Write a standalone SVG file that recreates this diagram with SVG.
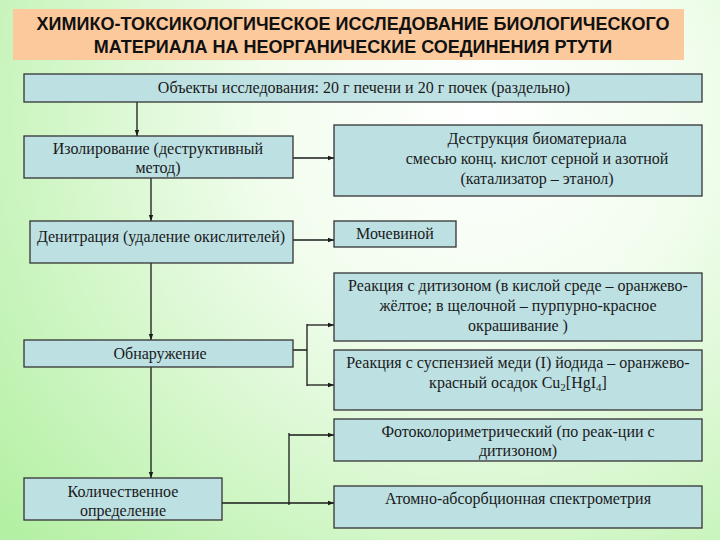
<svg xmlns="http://www.w3.org/2000/svg" width="720" height="540" viewBox="0 0 720 540">
<defs>
<radialGradient id="bg" cx="480" cy="120" r="620" gradientUnits="userSpaceOnUse">
<stop offset="0" stop-color="#ffffff"/>
<stop offset="0.35" stop-color="#f2fdee"/>
<stop offset="1" stop-color="#b4f0a4"/>
</radialGradient>
<marker id="ah" markerWidth="6" markerHeight="6" refX="6" refY="3" orient="auto" markerUnits="userSpaceOnUse">
<path d="M0,0.8 L6,3 L0,5.2 Z" fill="#1a1a1a"/>
</marker>
<style>
.box{fill:#bde0e3;stroke:#333333;stroke-width:1.3}
.t{font-family:"Liberation Serif","Times New Roman",serif;font-size:16px;fill:#1a1a1a;text-anchor:middle}
.ttl{font-family:"Liberation Sans",Arial,sans-serif;font-size:18px;font-weight:bold;fill:#111;text-anchor:middle}
.c{fill:none;stroke:#1a1a1a;stroke-width:1.3}
.ca{fill:none;stroke:#1a1a1a;stroke-width:1.3;marker-end:url(#ah)}
</style>
</defs>
<rect width="720" height="540" fill="url(#bg)"/>
<g id="title">
<rect x="13" y="9" width="671" height="51" fill="#fbc99c"/>
<text class="ttl" x="353" y="30">ХИМИКО-ТОКСИКОЛОГИЧЕСКОЕ ИССЛЕДОВАНИЕ БИОЛОГИЧЕСКОГО</text>
<text class="ttl" x="353" y="53">МАТЕРИАЛА НА НЕОРГАНИЧЕСКИЕ СОЕДИНЕНИЯ РТУТИ</text>
</g>
<g id="connectors">
<path class="ca" d="M137,102 V136"/>
<path class="ca" d="M293,158 H334"/>
<path class="ca" d="M151,178 V221"/>
<path class="ca" d="M293,240 H334"/>
<path class="ca" d="M151,263 V340"/>
<path class="c" d="M293,350 H307 M307,324 V386"/>
<path class="ca" d="M307,325 H334"/>
<path class="ca" d="M307,385 H334"/>
<path class="ca" d="M151,367 V478"/>
<path class="ca" d="M222,503 H334"/>
<path class="c" d="M289,433 V505"/>
<path class="ca" d="M289,435 H334"/>
</g>
<g id="objects">
<rect class="box" x="24" y="74" width="678" height="28"/>
<text class="t" x="364" y="93">Объекты исследования: 20 г печени и 20 г почек (раздельно)</text>
</g>
<g id="isolation">
<rect class="box" x="24" y="136" width="269" height="42"/>
<text class="t" x="158" y="154">Изолирование (деструктивный</text>
<text class="t" x="158" y="173">метод)</text>
</g>
<g id="destruction">
<rect class="box" x="334" y="125" width="368" height="71"/>
<text class="t" x="537" y="144">Деструкция биоматериала</text>
<text class="t" x="537" y="164">смесью конц. кислот серной и азотной</text>
<text class="t" x="537" y="184">(катализатор – этанол)</text>
</g>
<g id="denitration">
<rect class="box" x="30" y="221" width="263" height="42"/>
<text class="t" x="161" y="242">Денитрация (удаление окислителей)</text>
</g>
<g id="urea">
<rect class="box" x="334" y="221" width="122" height="26"/>
<text class="t" x="395" y="239">Мочевиной</text>
</g>
<g id="detection">
<rect class="box" x="24" y="340" width="269" height="27"/>
<text class="t" x="160" y="359">Обнаружение</text>
</g>
<g id="dithizone">
<rect class="box" x="334" y="273" width="368" height="68"/>
<text class="t" x="518" y="291">Реакция с дитизоном (в кислой среде – оранжево-</text>
<text class="t" x="518" y="311">жёлтое; в щелочной – пурпурно-красное</text>
<text class="t" x="518" y="331">окрашивание )</text>
</g>
<g id="copper">
<rect class="box" x="334" y="350" width="368" height="60"/>
<text class="t" x="518" y="368">Реакция с суспензией меди (I) йодида – оранжево-</text>
<text class="t" x="518" y="388">красный осадок Cu<tspan font-size="11" dy="3">2</tspan><tspan dy="-3">[HgI</tspan><tspan font-size="11" dy="3">4</tspan><tspan dy="-3">]</tspan></text>
</g>
<g id="quantitative">
<rect class="box" x="24" y="478" width="198" height="42"/>
<text class="t" x="123" y="497">Количественное</text>
<text class="t" x="123" y="516">определение</text>
</g>
<g id="photocolor">
<rect class="box" x="334" y="419" width="368" height="42"/>
<text class="t" x="518" y="437">Фотоколориметрический (по реак-ции с</text>
<text class="t" x="518" y="456">дитизоном)</text>
</g>
<g id="aas">
<rect class="box" x="334" y="486" width="368" height="42"/>
<text class="t" x="518" y="504">Атомно-абсорбционная спектрометрия</text>
</g>
</svg>
